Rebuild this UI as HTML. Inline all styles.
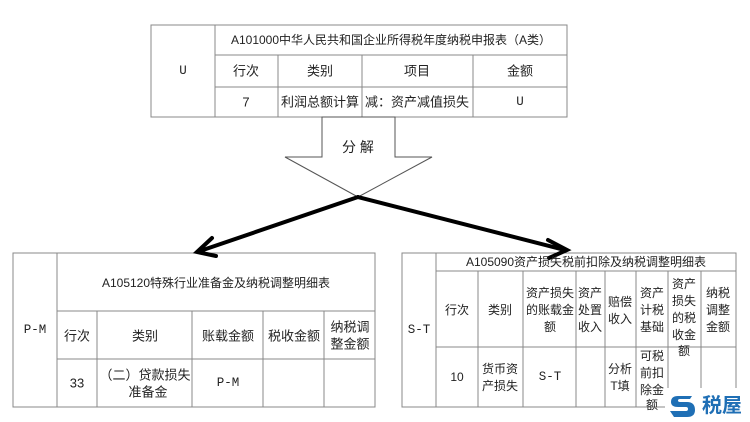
<!DOCTYPE html>
<html><head><meta charset="utf-8"><style>
body{margin:0;background:#fff;}
svg{display:block;}
text{font-family:"Liberation Sans","Noto Sans CJK SC",sans-serif;font-size:12px;fill:#222;text-anchor:middle;dominant-baseline:central;}
.m{font-family:"Liberation Mono","Noto Sans CJK SC",monospace;font-size:12.5px;}
</style></head><body>
<svg width="750" height="422" viewBox="0 0 750 422">
<g stroke="#888" stroke-width="1" fill="none">
<rect x="151" y="25" width="416" height="92"/>
<line x1="215" y1="25" x2="215" y2="117"/>
<line x1="215" y1="55" x2="567" y2="55"/>
<line x1="215" y1="87" x2="567" y2="87"/>
<line x1="278" y1="55" x2="278" y2="117"/>
<line x1="362" y1="55" x2="362" y2="117"/>
<line x1="473" y1="55" x2="473" y2="117"/>
<rect x="13" y="253" width="362" height="154"/>
<line x1="57" y1="253" x2="57" y2="407"/>
<line x1="57" y1="311" x2="375" y2="311"/>
<line x1="57" y1="359" x2="375" y2="359"/>
<line x1="97" y1="311" x2="97" y2="407"/>
<line x1="192" y1="311" x2="192" y2="407"/>
<line x1="263" y1="311" x2="263" y2="407"/>
<line x1="324" y1="311" x2="324" y2="407"/>
<rect x="402" y="253" width="334" height="154"/>
<line x1="436" y1="253" x2="436" y2="407"/>
<line x1="436" y1="271" x2="736" y2="271"/>
<line x1="436" y1="347" x2="736" y2="347"/>
<line x1="478" y1="271" x2="478" y2="407"/>
<line x1="523" y1="271" x2="523" y2="407"/>
<line x1="576" y1="271" x2="576" y2="407"/>
<line x1="605" y1="271" x2="605" y2="407"/>
<line x1="636" y1="271" x2="636" y2="407"/>
<line x1="668" y1="271" x2="668" y2="407"/>
<line x1="701" y1="271" x2="701" y2="407"/>
</g>
<polygon points="322,117 395,117 395,157 432,157 358,197 285,157 322,157" fill="#fff" stroke="#555" stroke-width="1"/>
<text x="358" y="147" style="font-size:14px">分 解</text>
<g stroke="#000" stroke-width="4" fill="none" stroke-linecap="round">
<line x1="358" y1="197" x2="200" y2="251"/>
<polyline points="212,238 197,252 216,256"/>
<line x1="358" y1="197" x2="565" y2="250"/>
<polyline points="548,240 567,250 549,258"/>
</g>
<text class="m" x="183" y="71">U</text>
<text x="391" y="40">A101000中华人民共和国企业所得税年度纳税申报表（A类）</text>
<text x="246" y="71" style="font-size:13px">行次</text>
<text x="320" y="71" style="font-size:13px">类别</text>
<text x="417" y="71" style="font-size:13px">项目</text>
<text x="520" y="71" style="font-size:13px">金额</text>
<text x="246" y="102" style="font-size:13px">7</text>
<text x="320" y="102" style="font-size:13px">利润总额计算</text>
<text x="417" y="102" style="font-size:13px">减：资产减值损失</text>
<text class="m" x="520" y="102">U</text>
<text class="m" x="35" y="330">P-M</text>
<text x="216" y="283">A105120特殊行业准备金及纳税调整明细表</text>
<text x="77" y="336" style="font-size:13px">行次</text>
<text x="145" y="336" style="font-size:13px">类别</text>
<text x="228" y="336" style="font-size:13px">账载金额</text>
<text x="294" y="336" style="font-size:13px">税收金额</text>
<text x="350" y="327" style="font-size:13px">纳税调</text>
<text x="350" y="344" style="font-size:13px">整金额</text>
<text x="77" y="383" style="font-size:13px">33</text>
<text x="145" y="375" style="font-size:13px">（二）贷款损失</text>
<text x="148" y="392" style="font-size:13px">准备金</text>
<text class="m" x="228" y="383">P-M</text>
<text class="m" x="419" y="330">S-T</text>
<text x="586" y="262">A105090资产损失税前扣除及纳税调整明细表</text>
<text x="457" y="310">行次</text>
<text x="500" y="310">类别</text>
<text x="550" y="293">资产损失</text>
<text x="550" y="310">的账载金</text>
<text x="550" y="327">额</text>
<text x="590" y="293">资产</text>
<text x="590" y="310">处置</text>
<text x="590" y="327">收入</text>
<text x="620" y="302">赔偿</text>
<text x="620" y="319">收入</text>
<text x="652" y="293">资产</text>
<text x="652" y="310">计税</text>
<text x="652" y="327">基础</text>
<text x="684" y="284">资产</text>
<text x="684" y="301">损失</text>
<text x="684" y="318">的税</text>
<text x="684" y="335">收金</text>
<text x="684" y="351">额</text>
<text x="718" y="293">纳税</text>
<text x="718" y="310">调整</text>
<text x="718" y="327">金额</text>
<text x="457" y="377">10</text>
<text x="500" y="369">货币资</text>
<text x="500" y="386">产损失</text>
<text class="m" x="550" y="377">S-T</text>
<text x="620" y="369">分析</text>
<text x="620" y="386">T填</text>
<text x="652" y="356">可税</text>
<text x="652" y="373">前扣</text>
<text x="652" y="390">除金</text>
<text x="652" y="405">额</text>
<rect x="665" y="388" width="85" height="34" fill="#fff"/>
<path d="M692,396 L678,396 Q671,396 671,402 Q671,407 678,407 L686,407 Q688,407 688,409 Q688,411 686,411 L670,411 L674,417 L687,417 Q695,417 695,410 Q695,402 687,402 L680,402 Q678,402 678,400.5 Q678,399 680,399 L690,399 Z" fill="#1f6fb5"/>
<text x="722" y="406" style="font-size:20px;fill:#1f6fb5;font-weight:bold">税屋</text>
</svg>
</body></html>
